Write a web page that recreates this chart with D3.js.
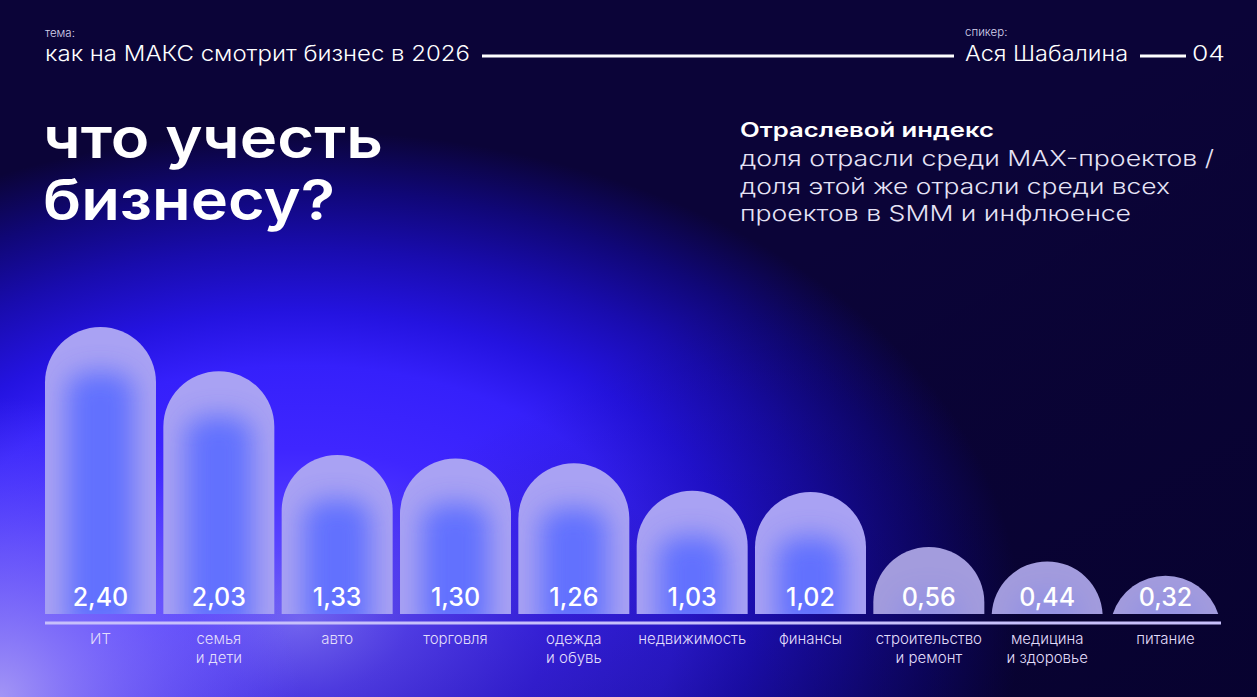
<!DOCTYPE html>
<html>
<head>
<meta charset="utf-8">
<script src="https://cdn.jsdelivr.net/npm/d3@7"></script>
<style>
  html, body { margin: 0; padding: 0; background: #0a0436; overflow: hidden; }
  svg { display: block; font-family: Inter, "Noto Sans", sans-serif; }
</style>
</head>
<body>
<svg id="chart"></svg>
<script>
// data
const categories = ['ИТ', 'семья|и дети', 'авто', 'торговля', 'одежда|и обувь',
                    'недвижимость', 'финансы', 'строительство|и ремонт', 'медицина|и здоровье', 'питание'];
const values = [2.40, 2.03, 1.33, 1.30, 1.26, 1.03, 1.02, 0.56, 0.44, 0.32];
const valueLabels = ['2,40', '2,03', '1,33', '1,30', '1,26', '1,03', '1,02', '0,56', '0,44', '0,32'];

const titleLines = ['что учесть', 'бизнесу?'];
const noteTitle = 'Отраслевой индекс';
const noteLines = ['доля отрасли среди MAX-проектов /', 'доля этой же отрасли среди всех', 'проектов в SMM и инфлюенсе'];

let width = 1257;
let height = 697;
let left = 45, right = 1221;
let barBottom = 614;
let barTopMax = 327;

let svg = d3.select('#chart').attr('width', width).attr('height', height);
let defs = svg.append('defs');

defs.append('filter').attr('id', 'innerBlur')
    .attr('x', '-100%').attr('y', '-100%').attr('width', '300%').attr('height', '300%')
    .append('feGaussianBlur').attr('stdDeviation', 13);

// background glow
let glowGrad = defs.append('radialGradient').attr('id', 'glow')
    .attr('gradientUnits', 'userSpaceOnUse')
    .attr('cx', 300).attr('cy', 620).attr('r', 720)
    .attr('gradientTransform', 'translate(300,620) scale(1,0.68) translate(-300,-620)');
[[0, '#7b6cff'], [0.15, '#5a44ff'], [0.35, '#3f26ff'], [0.52, '#3520fb'],
 [0.63, '#2413e0'], [0.76, '#190cae'], [0.88, '#100777'], [1, '#0b0438']]
    .forEach(s => glowGrad.append('stop').attr('offset', s[0]).attr('stop-color', s[1]));

let cornerGrad = defs.append('radialGradient').attr('id', 'corner')
    .attr('gradientUnits', 'userSpaceOnUse')
    .attr('cx', 0).attr('cy', 697).attr('r', 300);
cornerGrad.append('stop').attr('offset', 0).attr('stop-color', '#a89bf5').attr('stop-opacity', 0.95);
cornerGrad.append('stop').attr('offset', 0.5).attr('stop-color', '#8f80f8').attr('stop-opacity', 0.5);
cornerGrad.append('stop').attr('offset', 1).attr('stop-color', '#7060ff').attr('stop-opacity', 0);

let fadeGrad = defs.append('linearGradient').attr('id', 'fade')
    .attr('x1', 0).attr('y1', 0).attr('x2', 1).attr('y2', 1);
fadeGrad.append('stop').attr('offset', 0.5).attr('stop-color', '#05012a').attr('stop-opacity', 0);
fadeGrad.append('stop').attr('offset', 1).attr('stop-color', '#05012a').attr('stop-opacity', 0.6);

svg.append('rect').attr('width', width).attr('height', height).attr('fill', 'url(#glow)');
svg.append('rect').attr('width', width).attr('height', height).attr('fill', 'url(#fade)');
svg.append('rect').attr('width', width).attr('height', height).attr('fill', 'url(#corner)');

// header
let header = svg.append('g').attr('fill', '#ffffff');
header.append('text').attr('x', 45).attr('y', 37).attr('font-size', 11.5).attr('font-weight', 300)
    .attr('fill', '#d8d4ee').text('тема:');
header.append('text').attr('x', 45).attr('y', 61).attr('font-size', 22).attr('font-weight', 300)
    .attr('textLength', 425).attr('lengthAdjust', 'spacingAndGlyphs')
    .text('как на МАКС смотрит бизнес в 2026');
header.append('text').attr('x', 965).attr('y', 36).attr('font-size', 11.5).attr('font-weight', 300)
    .attr('fill', '#d8d4ee').text('спикер:');
header.append('text').attr('x', 965).attr('y', 61).attr('font-size', 22).attr('font-weight', 300)
    .attr('textLength', 163).attr('lengthAdjust', 'spacingAndGlyphs')
    .text('Ася Шабалина');
header.append('text').attr('x', 1192).attr('y', 61).attr('font-size', 22).attr('font-weight', 300)
    .attr('textLength', 33).attr('lengthAdjust', 'spacingAndGlyphs')
    .text('04');
header.append('line').attr('x1', 482).attr('x2', 954).attr('y1', 56).attr('y2', 56)
    .attr('stroke', '#ffffff').attr('stroke-width', 3);
header.append('line').attr('x1', 1140).attr('x2', 1186).attr('y1', 56).attr('y2', 56)
    .attr('stroke', '#ffffff').attr('stroke-width', 3);

// title
svg.append('g').selectAll('text')
    .data(titleLines)
    .enter()
    .append('text')
    .attr('x', 43)
    .attr('y', (d, i) => 158 + i * 62)
    .attr('font-size', 56)
    .attr('font-weight', 600)
    .attr('fill', '#ffffff')
    .attr('textLength', (d, i) => i == 0 ? 340 : 292)
    .attr('lengthAdjust', 'spacingAndGlyphs')
    .text(d => d);

// note
svg.append('text').attr('x', 740).attr('y', 137).attr('font-size', 20).attr('font-weight', 600)
    .attr('fill', '#ffffff').attr('textLength', 254).attr('lengthAdjust', 'spacingAndGlyphs')
    .text(noteTitle);
svg.append('g').selectAll('text')
    .data(noteLines)
    .enter()
    .append('text')
    .attr('x', 740)
    .attr('y', (d, i) => 166 + i * 27.5)
    .attr('font-size', 22)
    .attr('font-weight', 300)
    .attr('fill', '#e6e3f6')
    .attr('textLength', (d, i) => [474, 430, 391][i])
    .attr('lengthAdjust', 'spacingAndGlyphs')
    .text(d => d);

// scales
let xScale = d3.scaleBand()
    .domain(categories)
    .range([left, right])
    .paddingInner(0.062)
    .paddingOuter(0);

let yScale = d3.scaleLinear()
    .domain([0, 2.4])
    .range([barBottom, barTopMax]);

let bw = xScale.bandwidth();
let r = bw / 2;

let barPath = (x, top) => {
    let h = barBottom - top;
    let cx = x + r;
    if (h >= r) {
        return `M${x},${barBottom}L${x},${top + r}A${r},${r} 0 0 1 ${x + bw},${top + r}L${x + bw},${barBottom}Z`;
    }
    let hw = Math.sqrt(r * r - (r - h) * (r - h));
    return `M${cx - hw},${barBottom}A${r},${r} 0 0 1 ${cx + hw},${barBottom}Z`;
}

let innerPath = (x, top) => {
    let h = barBottom - top;
    let inset = 22;
    let t = top + r * 0.8;
    if (h < r * 1.2) t = top + h * 0.55;
    return `M${x + inset},${barBottom + 20}L${x + inset},${t + 20}Q${x + inset},${t} ${x + r},${t}Q${x + bw - inset},${t} ${x + bw - inset},${t + 20}L${x + bw - inset},${barBottom + 20}Z`;
}

let bars = svg.append('g').selectAll('g')
    .data(categories)
    .enter()
    .append('g');

bars.each(function (d, i) {
    let g = d3.select(this);
    let x = xScale(d);
    let top = yScale(values[i]);
    defs.append('clipPath').attr('id', 'clip' + i)
        .append('path').attr('d', barPath(x, top));
    g.append('path')
        .attr('class', 'bar')
        .attr('d', barPath(x, top))
        .attr('fill', i < 7 ? '#a9a2f3' : '#a39cdd');
    g.append('g').attr('clip-path', `url(#clip${i})`)
        .append('path')
        .attr('d', innerPath(x, top))
        .attr('fill', '#5a6cff')
        .attr('opacity', i < 7 ? 0.9 : 0.2)
        .attr('filter', 'url(#innerBlur)');
});

// value labels
svg.append('g').selectAll('text')
    .data(categories)
    .enter()
    .append('text')
    .attr('x', d => xScale(d) + r)
    .attr('y', 606)
    .attr('text-anchor', 'middle')
    .attr('font-size', 25)
    .attr('font-weight', 500)
    .attr('fill', '#ffffff')
    .text((d, i) => valueLabels[i]);

// baseline
svg.append('line')
    .attr('x1', left).attr('x2', right)
    .attr('y1', 623).attr('y2', 623)
    .attr('stroke', '#c7c0fb').attr('stroke-width', 3);

// category labels
let catLabels = svg.append('g').selectAll('text')
    .data(categories)
    .enter()
    .append('text')
    .attr('x', d => xScale(d) + r)
    .attr('y', 644)
    .attr('text-anchor', 'middle')
    .attr('font-size', 15)
    .attr('font-weight', 300)
    .attr('fill', '#e2defb');

catLabels.selectAll('tspan')
    .data(d => d.split('|'))
    .enter()
    .append('tspan')
    .attr('x', function () { return d3.select(this.parentNode).attr('x'); })
    .attr('dy', (d, i) => i == 0 ? 0 : 19)
    .text(d => d);
</script>
</body>
</html>
